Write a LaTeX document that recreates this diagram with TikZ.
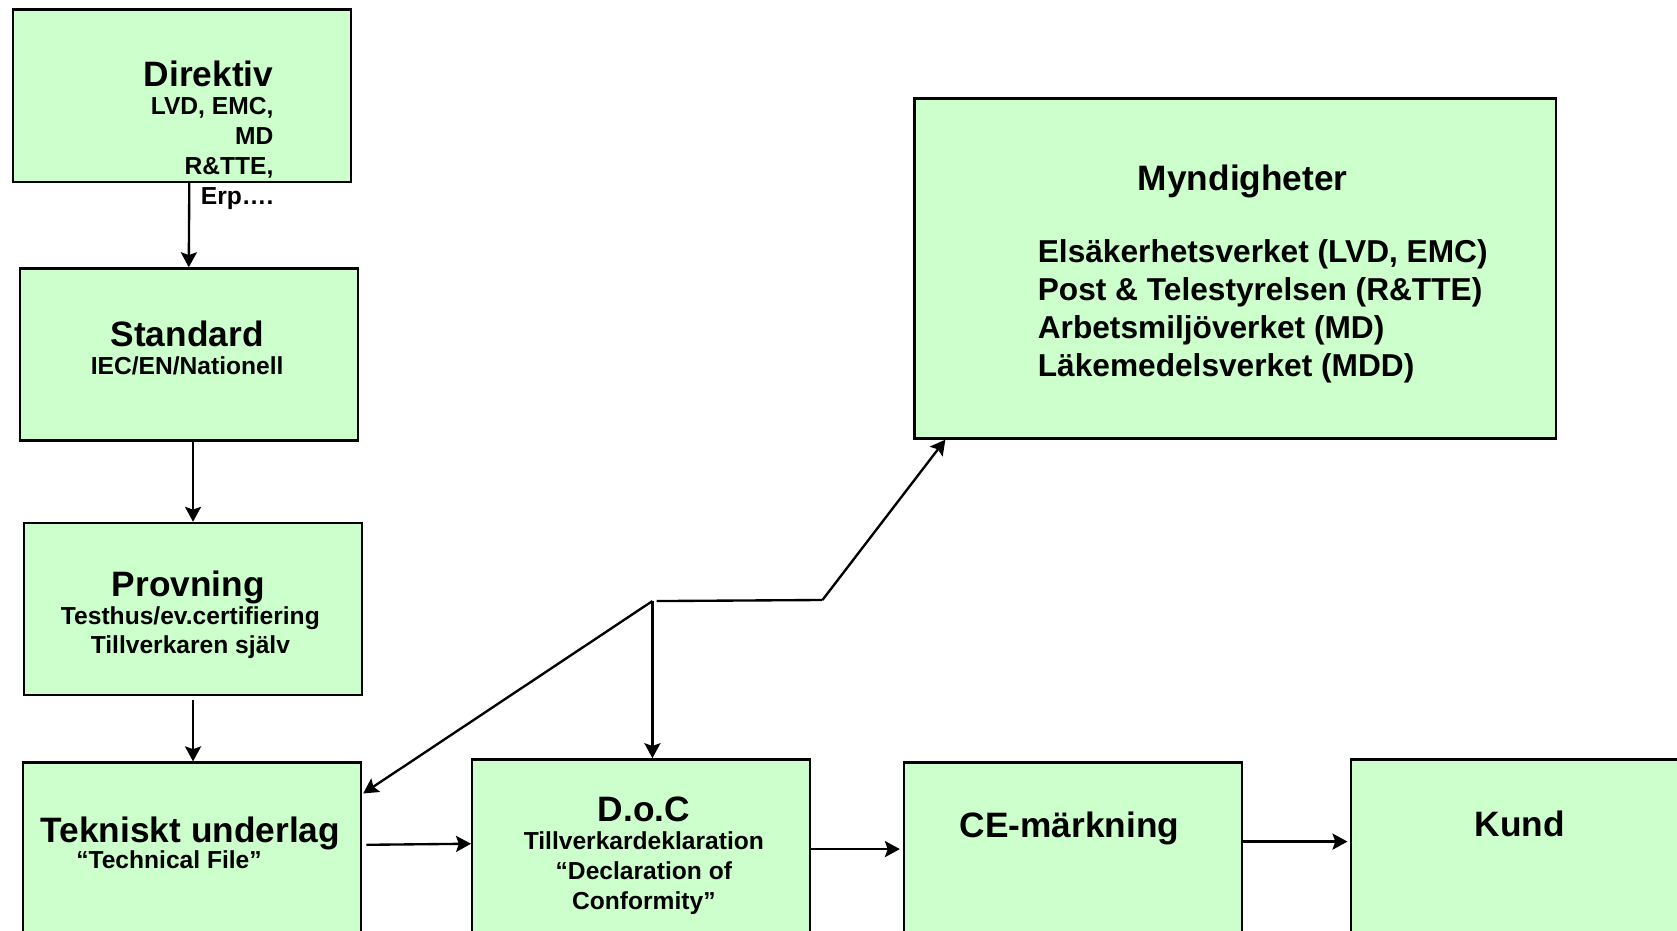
\documentclass[tikz,border=0pt]{standalone}
\usepackage{fontspec}
\setmainfont{Liberation Sans}
\usetikzlibrary{arrows.meta}
\definecolor{ljusgron}{HTML}{CCFFCC}
\tikzset{
  ruta/.style={draw, line width=1.1pt, fill=ljusgron, inner sep=0pt,
    minimum width=158pt, minimum height=80.5pt},
  rubrik/.style={anchor=base, inner sep=0pt, font=\bfseries\fontsize{16.5}{19}\selectfont},
  under/.style={anchor=base, inner sep=0pt, font=\bfseries\fontsize{11.5}{14}\selectfont},
  pil/.style={line width=1.1pt, -{Stealth[length=7pt,width=7.5pt,inset=1.3pt]}}
}
\begin{document}
\begin{tikzpicture}[x=0.5pt, y=-0.5pt]
  \useasboundingbox (0,0) rectangle (1568,870);
  \clip (0,0) rectangle (1568,870);
  % rutor
  \node[ruta] (dir) at (170,89.5) {};
  \node[ruta] (std) at (176.5,331.5) {};
  \node[ruta] (prov) at (180.5,569.5) {};
  \node[ruta, minimum height=95pt] (tek) at (179.5,808) {};
  \node[ruta, minimum height=95pt] (doc) at (599.5,805) {};
  \node[ruta, minimum height=95pt] (ce) at (1003.5,808) {};
  \node[ruta, minimum width=170pt, minimum height=95pt] (kund) at (1433,805) {};
  \node[ruta, minimum width=300pt, minimum height=159pt] (myn) at (1155,251) {};
  % texter
  \node[rubrik, anchor=base east] (dirT) at (256,81) {Direktiv};
  \foreach \rad [count=\i] in {{LVD, EMC,}, MD, {R\&TTE,}, Erp….}
    \node[under, anchor=base east] (dirU\i) at (256,{79+28*\i}) {\rad};
  \node[rubrik] (stdT) at (175,324) {Standard};
  \node[under] (stdU) at (175,350) {IEC/EN/Nationell};
  \node[rubrik] (provT) at (176,558) {Provning};
  \node[under] (provU1) at (178,584) {Testhus/ev.certifiering};
  \node[under] (provU2) at (178,611) {Tillverkaren själv};
  \node[rubrik] (tekT) at (178,788) {Tekniskt underlag};
  \node[under] (tekU) at (158,812) {“Technical File”};
  \node[rubrik] (docT) at (602,768) {D.o.C};
  \foreach \rad [count=\i] in {Tillverkardeklaration, “Declaration of, Conformity”}
    \node[under] (docU\i) at (602,{766+28*\i}) {\rad};
  \node[rubrik] (ceT) at (1000,783) {CE-märkning};
  \node[rubrik] (kundT) at (1421,782) {Kund};
  \node[rubrik] (mynT) at (1162,178) {Myndigheter};
  \foreach \rad [count=\i] in {{Elsäkerhetsverket (LVD, EMC)}, {Post \& Telestyrelsen (R\&TTE)},
      {Arbetsmiljöverket (MD)}, {Läkemedelsverket (MDD)}}
    \node[under, anchor=base west, font=\bfseries\fontsize{14.8}{18}\selectfont] (mynU\i)
      at (970,{209.3+35.7*\i}) {\rad};
  % pilar
  \coordinate (knut) at (610,562);
  \coordinate (bryt) at (769,561);
  \draw[pil] ([xshift=3.5pt]dir.south) -- (std.north);
  \draw[pil] (std.south -| prov.north) -- (prov.north);
  \draw[pil] ([yshift=-1.5pt]prov.south) -- (prov.south |- tek.north);
  \draw[pil] ([xshift=2pt,yshift=-39pt]tek.north east) -- ([yshift=-40pt]doc.north west);
  \draw[pil] ([yshift=-42.5pt]doc.north east) -- ([xshift=-1.5pt,yshift=-41pt]ce.north west);
  \draw[pil] ([yshift=-37.5pt]ce.north east) -- ([xshift=-1pt,yshift=-39pt]kund.north west);
  \draw[pil] (knut) -- ([xshift=0.5pt,yshift=-15pt]tek.north east);
  \draw[pil] (knut) -- (knut |- doc.north);
  \draw[line width=1.1pt] ([xshift=2pt]knut) -- (bryt);
  \draw[pil] (bryt) -- ([xshift=15pt]myn.south west);
\end{tikzpicture}
\end{document}
